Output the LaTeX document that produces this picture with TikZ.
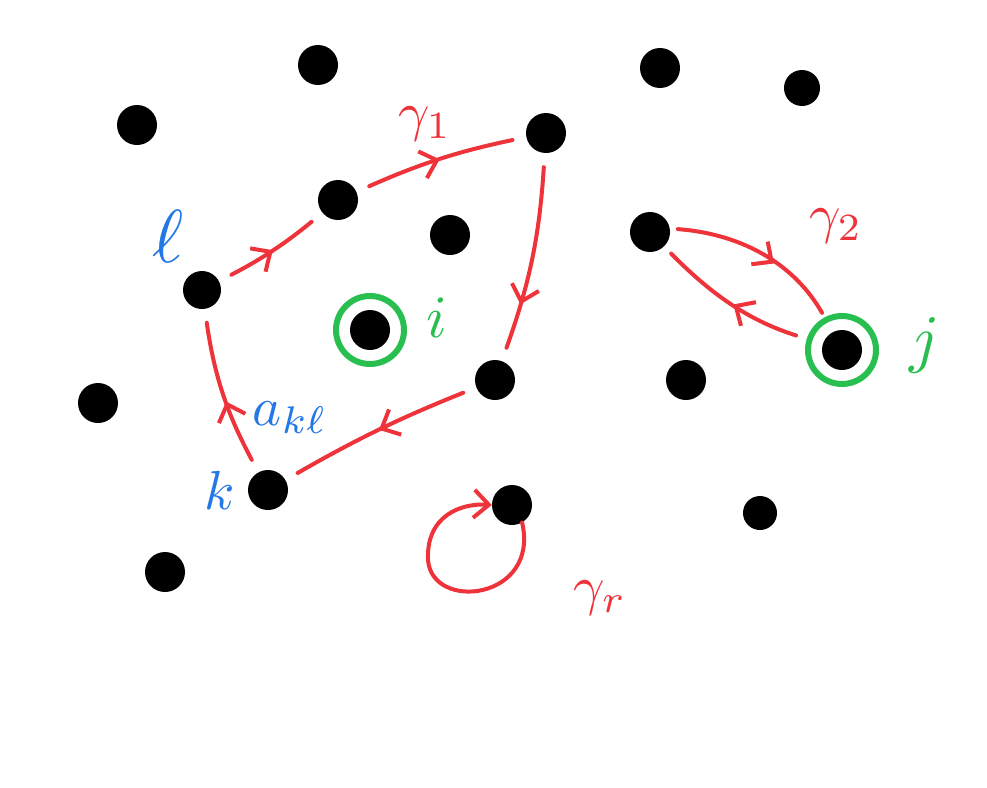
\documentclass[tikz,border=0pt]{standalone}
\usetikzlibrary{arrows.meta,decorations.markings}
\definecolor{pred}{RGB}{238,52,58}
\definecolor{pblue}{RGB}{35,120,230}
\definecolor{pgreen}{RGB}{40,190,80}
\tikzset{
  dot/.style={circle,fill=black,minimum size=40pt,inner sep=0pt},
  ring/.style={circle,draw=pgreen,line width=6pt,minimum size=68pt,inner sep=0pt},
  barb/.tip={Straight Barb[length=15pt,width=28pt]},
  edge/.style={draw=pred,line width=4pt,line cap=round,shorten >=14pt,shorten <=14pt,
    postaction={decorate,decoration={markings,mark=at position #1 with {\arrow[pred,line width=4pt]{barb}}}}},
  edge/.default=0.55,
  lab/.style={inner sep=0pt,scale=#1,transform shape},
  lab/.default=5.5,
}
\begin{document}
\begin{tikzpicture}[x=1pt,y=-1pt]
\useasboundingbox (0,0) rectangle (987,787);
\fill[white] (0,0) rectangle (987,787);
% dots
\node[dot] (d1) at (318,65) {};
\node[dot] (d2) at (660,68) {};
\node[dot,minimum size=36pt] (d3) at (802,88) {};
\node[dot] (d4) at (137,125) {};
\node[dot] (b) at (546,133) {};
\node[dot] (a) at (338,200) {};
\node[dot] (d7) at (450,235) {};
\node[dot] (p) at (650,232) {};
\node[dot,minimum size=38pt] (l) at (202,290) {};
\node[dot] (i) at (370,330) {};
\node[dot] (c) at (495,380) {};
\node[dot] (j) at (842,350) {};
\node[dot] (d13) at (686,380) {};
\node[dot] (d14) at (98,403) {};
\node[dot] (k) at (268,490) {};
\node[dot] (r) at (512,505) {};
\node[dot,minimum size=34pt] (d17) at (760,513) {};
\node[dot] (d18) at (165,572) {};
% green rings
\node[ring] (ri) at (i) {};
\node[ring] (rj) at (j) {};
% red edges
\draw[edge=0.5] (l) to[bend right=6] (a);
\draw[edge=0.5] (a) to[bend left=6] (b);
\draw[edge=0.72] (b) to[bend left=8] (c);
\draw[edge=0.5] (c) to[bend right=4] (k);
\draw[edge=0.45] (k) to[bend left=10] (l);
\draw[edge=0.55,shorten <=8pt,shorten >=22pt] (p.10) to[bend left=28] (j);
\draw[edge=0.52,shorten <=28pt,shorten >=10pt] (j) to[bend left=14] (p);
% loop
\draw[draw=pred,line width=4pt,line cap=round,-barb]
  (r.-60) .. controls (540,600) and (432,612) .. (428,560)
  .. controls (426,515) and (462,503) .. (r.west);
% labels
\node[lab,text=pred] at (425,124) {$\gamma_1$};
\node[lab,text=pred] at (836,226) {$\gamma_2$};
\node[lab,text=pred] at (600,598) {$\gamma_r$};
\node[lab,text=pblue] at (290,418) {$a_{k\ell}$};
\node[lab=7.5,text=pblue] at (168,236) {$\ell$};
\node[lab,text=pblue] at (220,490) {$k$};
\node[lab=6,text=pgreen] at (437,318) {$i$};
\node[lab=6.5,text=pgreen] at (925,345) {$j$};
\end{tikzpicture}
\end{document}
